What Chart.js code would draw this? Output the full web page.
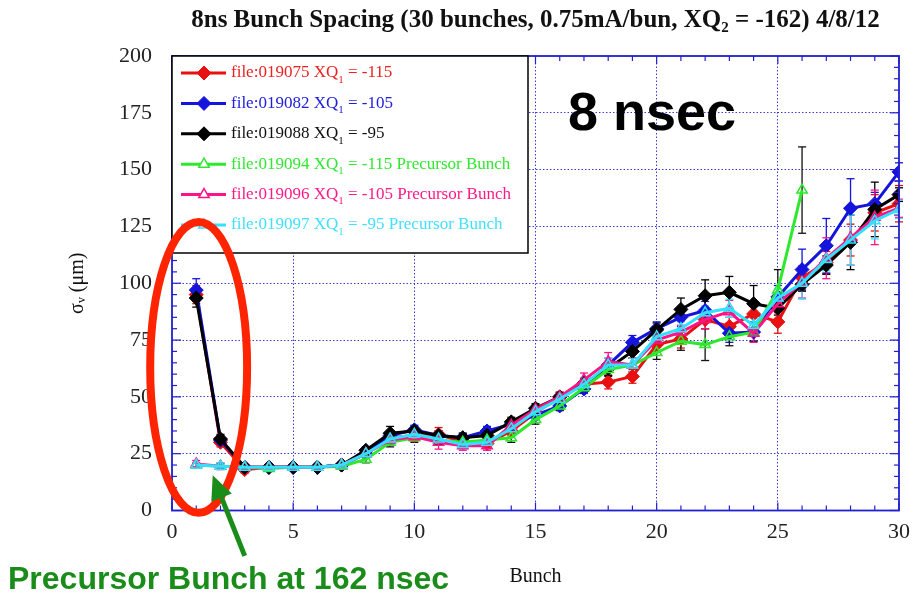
<!DOCTYPE html>
<html>
<head>
<meta charset="utf-8">
<script src="https://cdn.jsdelivr.net/npm/chart.js@4.4.1/dist/chart.umd.min.js"></script>
<style>
  html, body { margin: 0; padding: 0; background: #fff; }
  #wrap { position: relative; width: 913px; height: 594px; }
  .note { position: absolute; white-space: nowrap; pointer-events: none; line-height: 1; }
  #nsec { left: 568px; top: 80px; font: bold 54px "Liberation Sans", Arial, sans-serif; color: #000; }
  #precursor { left: 8px; top: 560px; font: bold 32px "Liberation Sans", Arial, sans-serif; color: #1a8c1a; }
</style>
</head>
<body>
<div id="wrap">
  <canvas id="sigmaChart" width="913" height="594"></canvas>
  <div class="note" id="nsec">8 nsec</div>
  <div class="note" id="precursor">Precursor Bunch at 162 nsec</div>
</div>
<script>
// bunch numbers along the train
const bunches = [1, 2, 3, 4, 5, 6, 7, 8, 9, 10, 11, 12, 13, 14, 15, 16, 17, 18, 19, 20, 21, 22, 23, 24, 25, 26, 27, 28, 29, 30];

// vertical beam size (um) per file
const sig075 = [95, 30, 18, 19, 19, 19, 20, 25, 32, 33, 33.5, 30, 29.5, 35, 43, 50, 55.5, 56.5, 59, 73, 75.5, 84, 81, 86.5, 83, 102.5, 109, 119, 131, 135];
const sig082 = [97, 31, 19, 19, 19, 19, 20, 25, 33, 35.5, 33, 32, 35, 38, 42, 46, 53.5, 64, 74, 80, 85, 88, 78, 78.5, 94, 106, 116.5, 133, 135, 149];
const sig088 = [93.5, 31.5, 19, 19, 19, 19, 20, 26.5, 34, 35, 33, 32, 33, 39, 45, 50, 56, 62.5, 70, 79.5, 88.5, 94.5, 96, 91, 89, 99.5, 108, 118, 132.5, 139];
const sig094 = [20, 19.5, 19, 18.5, 19, 19, 19.5, 22.5, 30, 32, 31, 30, 31, 32, 40, 46, 54, 62, 64, 69.5, 74.5, 73, 76.5, 78.5, 97, 141];
const sig096 = [20.5, 19.5, 19, 19, 19, 19, 20, 25, 31, 32.5, 30, 28.5, 28.5, 37.5, 44.5, 50, 57.5, 65.5, 64, 75, 78.5, 84, 87.5, 78, 91, 100.5, 111, 120, 129, 133];
const sig097 = [20, 19.5, 19, 19, 19, 19, 20, 25, 31.5, 33.5, 31.5, 29, 30, 36, 43.5, 49, 55.5, 64, 64, 76.5, 80, 87, 89, 81.5, 93.5, 100, 110.5, 119, 127.5, 132.5];

// error bars (half height, um)
const err075 = [4, 2, 1.5, 1, 1, 1, 1, 1.5, 2, 2, 3, 2, 2, 2, 2, 2, 2, 3, 3, 3, 4, 4, 4, 4, 5, 5, 5, 7, 8, 8];
const err082 = [5, 2, 1, 1, 1, 1, 1, 1.5, 2, 2, 2, 2, 2, 2, 2, 2, 2, 3, 3, 3, 4, 4, 4, 4, 5, 9, 12, 13, 5, 4];
const err088 = [4, 2, 1, 1, 1, 1, 1, 1.5, 3, 2, 2, 2, 2, 2, 2, 2, 2, 3, 3, 3, 5, 7, 7, 8, 3, 3, 4, 12, 12, 3];
const err094 = [1, 1, 1, 1, 1, 1, 1, 1.5, 2, 2, 2, 2, 2, 2, 2, 2, 2, 3, 3, 3, 4, 7, 4, 4, 9, 19];
const err096 = [1.5, 1.5, 1, 1, 1, 1, 1, 1.5, 2, 2, 3, 2, 2, 2, 2, 2, 3, 4, 3, 3, 3, 4, 5, 4, 4, 7, 9, 12, 12, 4];
const err097 = [1, 1.5, 1, 1, 1, 1, 1, 1.5, 2, 2, 2, 2, 2, 2, 2, 2, 3, 3, 3, 3, 3, 3, 4, 3, 4, 7, 5, 11, 8, 4];

const xTicks = [0, 5, 10, 15, 20, 25, 30];
const yTicks = [0, 25, 50, 75, 100, 125, 150, 175, 200];

const axisBlue = '#2020d0';
const serif = '"Liberation Serif", "Times New Roman", serif';

function series(label, vals, errs, color, textColor, errColor, style, order) {
  const diamond = style === 'rectRot';
  return {
    label: label,
    data: vals.map((v, i) => ({ x: bunches[i], y: v })),
    errs: errs,
    errColor: errColor,
    textColor: textColor,
    borderColor: color,
    backgroundColor: color,
    borderWidth: 3,
    pointStyle: style,
    pointRadius: diamond ? 7 : 6,
    pointBorderWidth: diamond ? 1 : 1.5,
    pointBackgroundColor: diamond ? color : 'rgba(255,255,255,0)',
    pointBorderColor: color,
    tension: 0,
    order: order
  };
}

const datasets = [
  series('file:019075 XQ\u2081 = -115', sig075, err075, '#e81010', '#ee2020', '#e81010', 'rectRot', 6),
  series('file:019082 XQ\u2081 = -105', sig082, err082, '#1414dc', '#2020dd', '#1414dc', 'rectRot', 5),
  series('file:019088 XQ\u2081 = -95', sig088, err088, '#000000', '#111111', '#000000', 'rectRot', 4),
  series('file:019094 XQ\u2081 = -115 Precursor Bunch', sig094, err094, '#2ee82e', '#30e830', '#111111', 'triangle', 3),
  series('file:019096 XQ\u2081 = -105 Precursor Bunch', sig096, err096, '#ff1488', '#ff1a8a', '#ff1488', 'triangle', 2),
  series('file:019097 XQ\u2081 = -95 Precursor Bunch', sig097, err097, '#33e0ff', '#40e0ff', '#33e0ff', 'triangle', 1)
];

function line(ctx, x1, y1, x2, y2) {
  ctx.beginPath(); ctx.moveTo(x1, y1); ctx.lineTo(x2, y2); ctx.stroke();
}

function marker(ctx, style, x, y, r) {
  ctx.beginPath();
  if (style === 'rectRot') {
    ctx.moveTo(x, y - r); ctx.lineTo(x + r, y); ctx.lineTo(x, y + r); ctx.lineTo(x - r, y);
  } else {
    ctx.moveTo(x, y - r); ctx.lineTo(x + r * 0.866, y + r * 0.5); ctx.lineTo(x - r * 0.866, y + r * 0.5);
  }
  ctx.closePath();
  ctx.fill(); ctx.stroke();
}

const overlay = {
  id: 'overlay',
  beforeDatasetsDraw(chart) {
    const { ctx, scales: { x, y } } = chart;
    ctx.save();
    ctx.lineWidth = 1.3;
    chart.data.datasets.forEach(ds => {
      ctx.strokeStyle = ds.errColor;
      ds.data.forEach((p, i) => {
        const e = ds.errs[i];
        const px = x.getPixelForValue(p.x);
        const yt = y.getPixelForValue(p.y + e), yb = y.getPixelForValue(p.y - e);
        line(ctx, px, yt, px, yb);
        line(ctx, px - 4, yt, px + 4, yt);
        line(ctx, px - 4, yb, px + 4, yb);
      });
    });
    ctx.restore();
  },
  afterDatasetsDraw(chart) {
    const { ctx, chartArea: ca, scales: { x, y } } = chart;
    ctx.save();
    // frame and inward ticks
    ctx.strokeStyle = axisBlue;
    ctx.lineWidth = 1.2;
    for (let v = 0; v <= 30; v++) {
      const px = x.getPixelForValue(v), len = v % 5 === 0 ? 8 : 5;
      line(ctx, px, ca.bottom, px, ca.bottom - len);
      line(ctx, px, ca.top, px, ca.top + len);
    }
    for (let v = 0; v <= 200; v += 5) {
      const py = y.getPixelForValue(v), len = v % 25 === 0 ? 9 : 5;
      line(ctx, ca.left, py, ca.left + len, py);
      line(ctx, ca.right, py, ca.right - len, py);
    }
    ctx.lineWidth = 1.8;
    ctx.strokeRect(ca.left, ca.top, ca.right - ca.left, ca.bottom - ca.top);

    // legend box
    const bx = ca.left, by = ca.top, bw = 356, bh = 197;
    ctx.fillStyle = '#fff';
    ctx.fillRect(bx, by, bw, bh);
    ctx.strokeStyle = '#000';
    ctx.lineWidth = 1.5;
    ctx.strokeRect(bx, by, bw, bh);
    ctx.textBaseline = 'middle';
    ctx.textAlign = 'left';
    chart.data.datasets.forEach((ds, i) => {
      const cy = by + 17 + i * 30.4;
      ctx.strokeStyle = ds.borderColor;
      ctx.lineWidth = 3;
      line(ctx, bx + 9, cy, bx + 54, cy);
      ctx.fillStyle = ds.pointBackgroundColor === ds.borderColor ? ds.borderColor : '#fff';
      ctx.lineWidth = ds.pointBorderWidth;
      marker(ctx, ds.pointStyle, bx + 32, cy, ds.pointRadius);
      const parts = ds.label.split('\u2081');
      ctx.fillStyle = ds.textColor;
      ctx.font = '17px ' + serif;
      let tx = bx + 59;
      ctx.fillText(parts[0], tx, cy);
      tx += ctx.measureText(parts[0]).width;
      ctx.font = '11px ' + serif;
      ctx.fillText('1', tx, cy + 7);
      tx += ctx.measureText('1').width;
      ctx.font = '17px ' + serif;
      ctx.fillText(parts[1], tx, cy);
    });

    // red ellipse around the first two bunches
    const ex = x.getPixelForValue(1.1), ey = y.getPixelForValue(63);
    const rx = x.getPixelForValue(3.1) - x.getPixelForValue(1.1);
    const ry = y.getPixelForValue(0) - y.getPixelForValue(64);
    ctx.strokeStyle = '#ff2400';
    ctx.lineWidth = 8;
    ctx.beginPath();
    ctx.ellipse(ex, ey, rx, ry, 0, 0, Math.PI * 2);
    ctx.stroke();

    // green arrow to the precursor bunch
    const tx0 = x.getPixelForValue(3.0), ty0 = y.getPixelForValue(-20);
    const hx = x.getPixelForValue(1.68), hy = y.getPixelForValue(15.5);
    const ang = Math.atan2(hy - ty0, hx - tx0);
    const hl = 24, hw = 11;
    const bxp = hx - Math.cos(ang) * hl, byp = hy - Math.sin(ang) * hl;
    ctx.strokeStyle = '#1a8c1a';
    ctx.fillStyle = '#1a8c1a';
    ctx.lineWidth = 5;
    line(ctx, tx0, ty0, bxp, byp);
    ctx.beginPath();
    ctx.moveTo(hx, hy);
    ctx.lineTo(bxp - Math.sin(ang) * hw, byp + Math.cos(ang) * hw);
    ctx.lineTo(bxp + Math.sin(ang) * hw, byp - Math.cos(ang) * hw);
    ctx.closePath();
    ctx.fill();
    ctx.restore();
  }
};

new Chart(document.getElementById('sigmaChart').getContext('2d'), {
  type: 'line',
  data: { datasets: datasets },
  plugins: [overlay],
  options: {
    responsive: false,
    animation: false,
    devicePixelRatio: 1,
    layout: { padding: { left: 0, right: 14, top: 0, bottom: 0 } },
    plugins: {
      legend: { display: false },
      tooltip: { enabled: false },
      title: {
        display: true,
        fullSize: false,
        text: '8ns Bunch Spacing (30 bunches, 0.75mA/bun, XQ\u2082 = -162) 4/8/12',
        color: '#111',
        font: { family: serif, size: 25, weight: 'bold' },
        padding: { top: 6, bottom: 20 }
      }
    },
    scales: {
      x: {
        type: 'linear',
        min: 0,
        max: 30,
        afterBuildTicks: s => { s.ticks = xTicks.map(v => ({ value: v })); },
        afterFit: s => { s.height = 83.5; s.paddingLeft = 0; s.paddingRight = 0; },
        ticks: { color: '#222', font: { family: serif, size: 22 }, padding: 9, maxRotation: 0 },
        grid: {
          drawTicks: false,
          lineWidth: 1,
          color: c => (c.tick && (c.tick.value === 0 || c.tick.value === 30)) ? 'rgba(0,0,0,0)' : '#3a3ad8'
        },
        border: { display: false, dash: [1.5, 2] },
        title: { display: true, text: 'Bunch', color: '#111', font: { family: serif, size: 20 }, padding: { top: 0, bottom: 5 } }
      },
      y: {
        type: 'linear',
        min: 0,
        max: 200,
        afterBuildTicks: s => { s.ticks = yTicks.map(v => ({ value: v })); },
        afterFit: s => { s.width = 172; s.paddingTop = 0; s.paddingBottom = 0; },
        ticks: { color: '#222', font: { family: serif, size: 22 }, padding: 20 },
        grid: {
          drawTicks: false,
          lineWidth: 1,
          color: c => (c.tick && (c.tick.value === 0 || c.tick.value === 200)) ? 'rgba(0,0,0,0)' : '#3a3ad8'
        },
        border: { display: false, dash: [1.5, 2] },
        title: { display: true, text: '\u03c3\u1d65 (\u03bcm)', color: '#111', font: { family: serif, size: 20 }, padding: { top: 66, bottom: 0 } }
      }
    }
  }
});
</script>
</body>
</html>
